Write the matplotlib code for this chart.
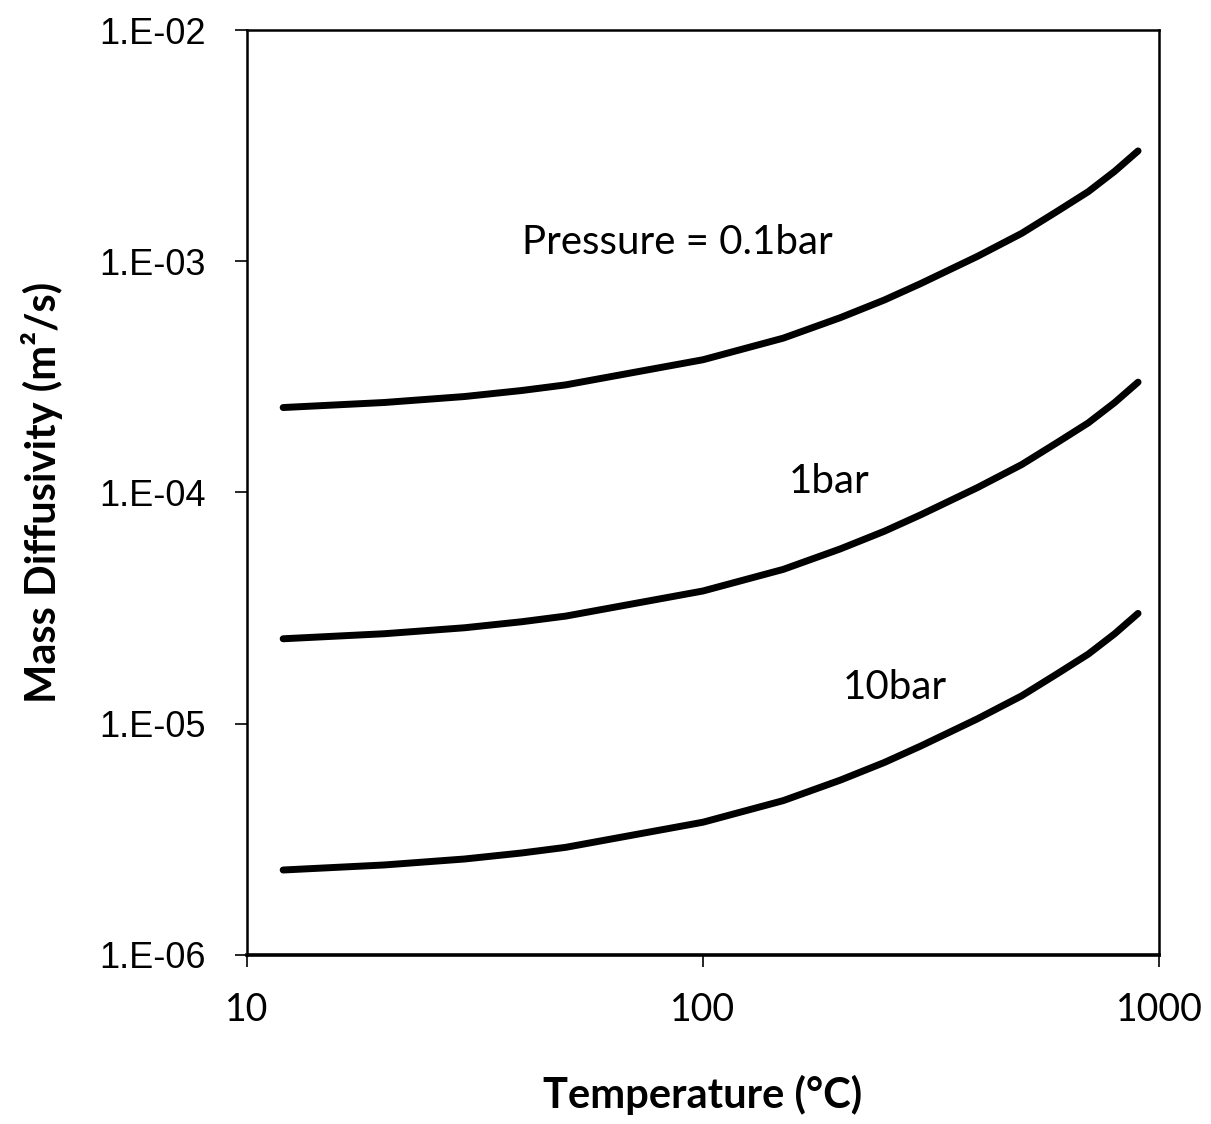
import matplotlib
matplotlib.use("Agg")
import matplotlib.pyplot as plt
from matplotlib.ticker import FixedLocator, NullLocator

# temperature (deg C) and mass diffusivity (m2/s) at three pressures
temperature = [12, 20, 30, 40, 50, 100, 150, 200, 250, 300, 400, 500, 600, 700, 800, 900]
d_01bar = [2.33e-4, 2.45e-4, 2.60e-4, 2.76e-4, 2.92e-4, 3.75e-4, 4.65e-4, 5.70e-4,
           6.80e-4, 8.00e-4, 1.05e-3, 1.32e-3, 1.65e-3, 2.00e-3, 2.45e-3, 3.00e-3]
d_1bar = [2.33e-5, 2.45e-5, 2.60e-5, 2.76e-5, 2.92e-5, 3.75e-5, 4.65e-5, 5.70e-5,
          6.80e-5, 8.00e-5, 1.05e-4, 1.32e-4, 1.65e-4, 2.00e-4, 2.45e-4, 3.00e-4]
d_10bar = [2.33e-6, 2.45e-6, 2.60e-6, 2.76e-6, 2.92e-6, 3.75e-6, 4.65e-6, 5.70e-6,
           6.80e-6, 8.00e-6, 1.05e-5, 1.32e-5, 1.65e-5, 2.00e-5, 2.45e-5, 3.00e-5]

x_ticks = [10, 100, 1000]
x_ticklabels = ["10", "100", "1000"]
y_ticks = [1e-6, 1e-5, 1e-4, 1e-3, 1e-2]
y_ticklabels = ["1.E-06", "1.E-05", "1.E-04", "1.E-03", "1.E-02"]

labels = ["Pressure = 0.1bar", "1bar", "10bar"]
label_pos = [(88, 1.2e-3), (189, 1.12e-4), (264, 1.43e-5)]

comic = ["Lato", "DejaVu Sans"]

fig = plt.figure(figsize=(12.11, 11.24), dpi=100)
ax = fig.add_axes([0.204, 0.1504, 0.753, 0.8229])

for d in (d_01bar, d_1bar, d_10bar):
    ax.plot(temperature, d, color="black", lw=5, solid_capstyle="round",
            solid_joinstyle="round")

ax.set_xscale("log")
ax.set_yscale("log")
ax.set_xlim(10, 1000)
ax.set_ylim(1e-6, 1e-2)

ax.xaxis.set_major_locator(FixedLocator(x_ticks))
ax.xaxis.set_minor_locator(NullLocator())
ax.yaxis.set_major_locator(FixedLocator(y_ticks))
ax.yaxis.set_minor_locator(NullLocator())
ax.set_xticklabels(x_ticklabels, fontsize=27, family=comic)
ax.set_yticklabels(y_ticklabels, fontsize=26, family="Liberation Sans")
ax.tick_params(axis="both", direction="out", length=8.6, width=1.2, color="black")
ax.tick_params(axis="x", pad=18)
ax.tick_params(axis="y", pad=21)

for s in ax.spines.values():
    s.set_linewidth(1.8)
ax.spines["bottom"].set_linewidth(2.6)

ax.set_xlabel("Temperature (°C)", fontsize=30, fontweight="bold", family=comic,
              labelpad=34)
ax.set_ylabel("Mass Diffusivity (m²/s)", fontsize=30, fontweight="bold",
              family=comic, labelpad=26)

for text, (tx, ty) in zip(labels, label_pos):
    ax.text(tx, ty, text, fontsize=29, family=comic, ha="center", va="center")

fig.savefig("out.png", dpi=100)
